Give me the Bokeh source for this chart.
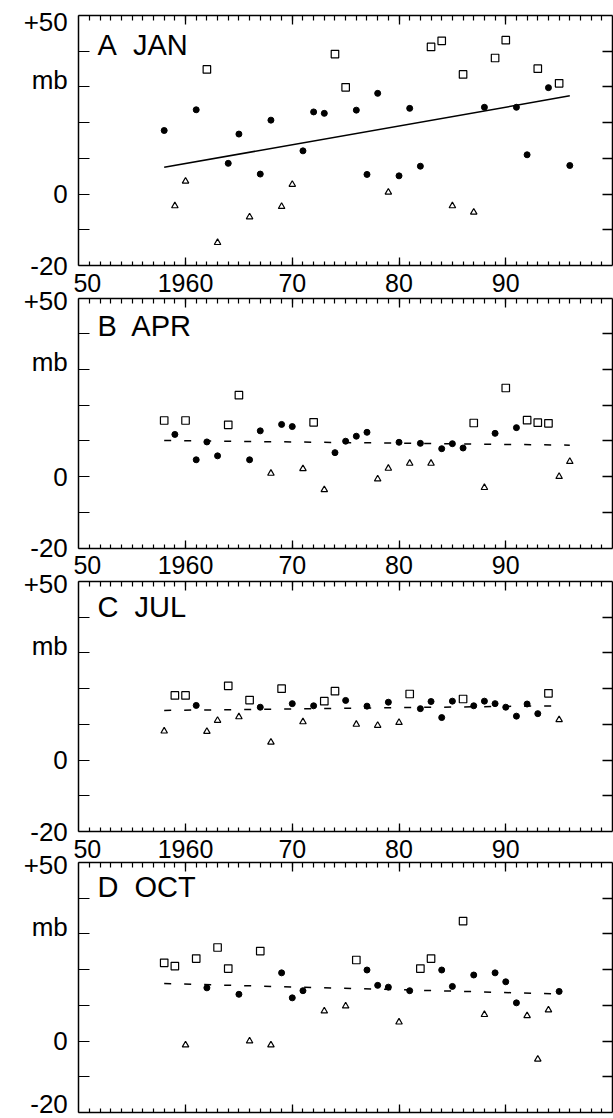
from bokeh.plotting import figure
from bokeh.models import ColumnDataSource, FixedTicker, LinearAxis, Range1d, Label
from bokeh.embed import file_html
from bokeh.resources import INLINE

FONT = "Liberation Sans"

# ---------------- data ----------------
panel_names = ["jan", "apr", "jul", "oct"]
panel_titles = ["A\u00a0 JAN", "B\u00a0 APR", "C\u00a0 JUL", "D\u00a0 OCT"]

jan_years = list(range(1958, 1997))
jan_values = [17.8, -3.3, 3.6, 23.6, 34.9, -13.6, 8.6, 16.8, -6.4, 5.6,
              20.7, -3.5, 2.7, 12.1, 23.0, 22.6, 39.2, 29.9, 23.5, 5.5,
              28.2, 0.5, 5.1, 24.0, 7.8, 41.2, 42.9, -3.3, 33.5, -5.1,
              24.3, 38.1, 43.1, 24.3, 11.0, 35.1, 29.8, 31.0, 8.0]
jan_kind = ["c", "t", "t", "c", "s", "t", "c", "c", "t", "c",
            "c", "t", "t", "c", "c", "c", "s", "s", "c", "c",
            "c", "t", "c", "c", "c", "s", "s", "t", "s", "t",
            "c", "s", "s", "c", "c", "s", "c", "s", "c"]

apr_years = list(range(1958, 1997))
apr_values = [15.7, 11.8, 15.7, 4.7, 9.7, 5.8, 14.5, 22.8, 4.7, 12.8,
              0.9, 14.6, 14.0, 2.2, 15.2, -3.7, 6.7, 9.9, 11.3, 12.4,
              -0.7, 2.3, 9.6, 3.7, 9.3, 3.7, 7.8, 9.2, 8.0, 15.0,
              -3.1, 12.1, 24.8, 13.7, 15.8, 15.1, 14.9, 0.0, 4.2]
apr_kind = ["s", "c", "s", "c", "c", "c", "s", "s", "c", "c",
            "t", "c", "c", "t", "s", "t", "c", "c", "c", "c",
            "t", "t", "c", "t", "c", "t", "c", "c", "c", "s",
            "t", "c", "s", "c", "s", "s", "s", "t", "t"]

jul_years = list(range(1958, 1996))
jul_values = [8.1, 18.1, 18.1, 15.3, 8.0, 11.1, 20.8, 12.1, 16.8, 14.8,
              5.0, 20.0, 15.8, 10.7, 15.2, 16.5, 19.3, 16.7, 10.0, 15.1,
              9.7, 16.2, 10.5, 18.5, 14.4, 16.4, 11.9, 16.5, 17.1, 15.2,
              16.5, 15.8, 14.8, 12.3, 15.7, 13.0, 18.7, 11.3]
jul_kind = ["t", "s", "s", "c", "t", "t", "s", "t", "s", "c",
            "t", "s", "c", "t", "c", "s", "s", "c", "t", "c",
            "t", "c", "t", "s", "c", "c", "c", "c", "s", "c",
            "c", "c", "c", "c", "c", "c", "s", "t"]

oct_years = [1958, 1959, 1960, 1961, 1962, 1963, 1964, 1965, 1966, 1967,
             1968, 1969, 1970, 1971, 1973, 1975, 1976, 1977, 1978, 1979,
             1980, 1981, 1982, 1983, 1984, 1985, 1986, 1987, 1988, 1989,
             1990, 1991, 1992, 1993, 1994, 1995]
oct_values = [21.9, 21.0, -1.1, 23.1, 14.9, 26.2, 20.3, 13.1, 0.0, 25.2,
              -1.1, 19.1, 12.1, 14.1, 8.4, 9.8, 22.7, 19.9, 15.6, 15.1,
              5.3, 14.1, 20.3, 23.1, 19.9, 15.3, 33.6, 18.5, 7.4, 19.1,
              16.6, 10.7, 7.1, -5.1, 8.7, 13.9]
oct_kind = ["s", "s", "t", "s", "c", "s", "s", "c", "t", "s",
            "t", "c", "c", "c", "t", "t", "s", "c", "c", "c",
            "t", "c", "s", "s", "c", "c", "s", "c", "t", "c",
            "c", "c", "t", "t", "t", "c"]

# trend lines: (start year, end year), (start value, end value)
trend_years = [(1958, 1996), (1958, 1996), (1958, 1995), (1958, 1995)]
trend_values = [(7.5, 27.5), (10.1, 8.8), (13.9, 15.2), (16.1, 13.2)]
trend_dash = ["solid", "7 13", "7 13", "7 13"]

x_major_years = [1960, 1970, 1980, 1990]
x_label_pos = [1950.8, 1960, 1970, 1980, 1990]
x_label_texts = ["50", "1960", "70", "80", "90"]
y_label_texts = ["-20", "0", "mb", "+50"]
y_tick_marks = [-20, -10, 0, 10, 20, 30, 40, 50]
y_right_ticks = [-10, 0, 10, 20, 30, 40]

series = [(jan_years, jan_values, jan_kind),
          (apr_years, apr_values, apr_kind),
          (jul_years, jul_values, jul_kind),
          (oct_years, oct_values, oct_kind)]

# ---------------- layout / style (pixels) ----------------
W, H = 613, 1118
X_LO, X_HI = 1950, 2000
Y_LO, Y_HI = -20, 50
X_LO_PX, X_HI_PX = 78.3, 612.0
PX_PER_YEAR = (X_HI_PX - X_LO_PX) / (X_HI - X_LO)
PX_PER_MB = 250 / 70.0
PANEL_TOPS = [15, 297.5, 581, 862]
LABEL_Y = [[-20, 0, 32, 48.1], [-20, 0, 32, 49.2],
           [-20, 0, 32, 49.2], [-20, 0, 32, 49.2]]
TITLE_Y = [41.7, 42.3, 42.9, 43.2]

x_start = X_LO - X_LO_PX / PX_PER_YEAR
x_end = X_HI + (W - X_HI_PX) / PX_PER_YEAR

extra = {}
for i, name in enumerate(panel_names):
    end = Y_HI + PANEL_TOPS[i] / PX_PER_MB
    extra[name] = Range1d(end - H / PX_PER_MB, end)

p = figure(width=W, height=H, x_range=Range1d(x_start, x_end),
           y_range=Range1d(0, H), x_axis_type=None, y_axis_type=None,
           output_backend="svg", toolbar_location=None,
           min_border_left=0, min_border_right=0, min_border_top=0,
           min_border_bottom=0)
p.extra_y_ranges = extra
p.outline_line_color = None
p.background_fill_color = "white"
p.border_fill_color = "white"


def make_axis(name, ticks, minor=(), major_in=0, minor_in=0, labels=None,
              font_size="25px", standoff=0, fixed=None, line=False,
              bounds=None):
    ax = LinearAxis(ticker=FixedTicker(ticks=list(ticks), minor_ticks=list(minor)),
                    y_range_name=name)
    ax.fixed_location = fixed
    if bounds is not None:
        ax.bounds = bounds
    ax.axis_line_color = "black" if line else None
    ax.axis_line_width = 1.5
    ax.major_tick_in = major_in
    ax.major_tick_out = 0
    ax.minor_tick_in = minor_in
    ax.minor_tick_out = 0
    ax.major_tick_line_color = "black" if major_in > 0 else None
    ax.minor_tick_line_color = "black" if minor_in > 0 else None
    ax.major_tick_line_width = 1.3
    ax.minor_tick_line_width = 1.2
    ax.major_label_standoff = standoff
    if labels is None:
        ax.major_label_text_font_size = "0px"
        ax.major_label_text_color = None
    else:
        ax.major_label_overrides = labels
        ax.major_label_text_font = FONT
        ax.major_label_text_font_size = font_size
        ax.major_label_text_color = "black"
    return ax


minor_years = list(range(1951, 2000))
for i, name in enumerate(panel_names):
    # panel box: top and bottom edges with year tick marks
    p.add_layout(make_axis(name, x_major_years, minor_years, 9, 5, fixed=Y_HI,
                           line=True, bounds=(X_LO, X_HI)), "above")
    p.add_layout(make_axis(name, x_major_years, minor_years, 8, 4, fixed=Y_LO,
                           line=True, bounds=(X_LO, X_HI)), "below")
    # left edge: tick marks + labels
    p.add_layout(make_axis(name, LABEL_Y[i], y_tick_marks, 0, 11,
                           labels=dict(zip(LABEL_Y[i], y_label_texts)),
                           font_size="26px", standoff=11, fixed=X_LO,
                           line=True, bounds=(Y_LO, Y_HI)), "left")
    # right edge with tick marks
    p.add_layout(make_axis(name, y_right_ticks, [], 10, 0, fixed=X_HI,
                           line=True, bounds=(Y_LO, Y_HI)), "right")
    # year labels below panels A-C
    if i < 3:
        p.add_layout(make_axis(name, x_label_pos, fixed=Y_LO,
                               labels=dict(zip(x_label_pos, x_label_texts)),
                               standoff=8), "below")

    yrs, vals, kinds = series[i]
    for kind, marker, size, fill in [("c", "circle", 6, "black"),
                                     ("s", "square", 7.5, None),
                                     ("t", "triangle", 6.5, None)]:
        xs = [y for y, k in zip(yrs, kinds) if k == kind]
        ys = [v for v, k in zip(vals, kinds) if k == kind]
        src = ColumnDataSource(data=dict(x=xs, y=ys))
        p.scatter("x", "y", source=src, marker=marker, size=size,
                  fill_color=fill, line_color="black",
                  line_width=1.2 if fill is None else 1, y_range_name=name)

    p.line(list(trend_years[i]), list(trend_values[i]), line_color="black",
           line_width=1.5, line_dash=trend_dash[i], y_range_name=name)

    p.add_layout(Label(x=1951.75, y=TITLE_Y[i], y_range_name=name,
                       text=panel_titles[i], text_font=FONT,
                       text_font_size="29px", text_align="left",
                       text_baseline="middle", text_color="black"))

open("out.html", "w").write(file_html(p, INLINE))
